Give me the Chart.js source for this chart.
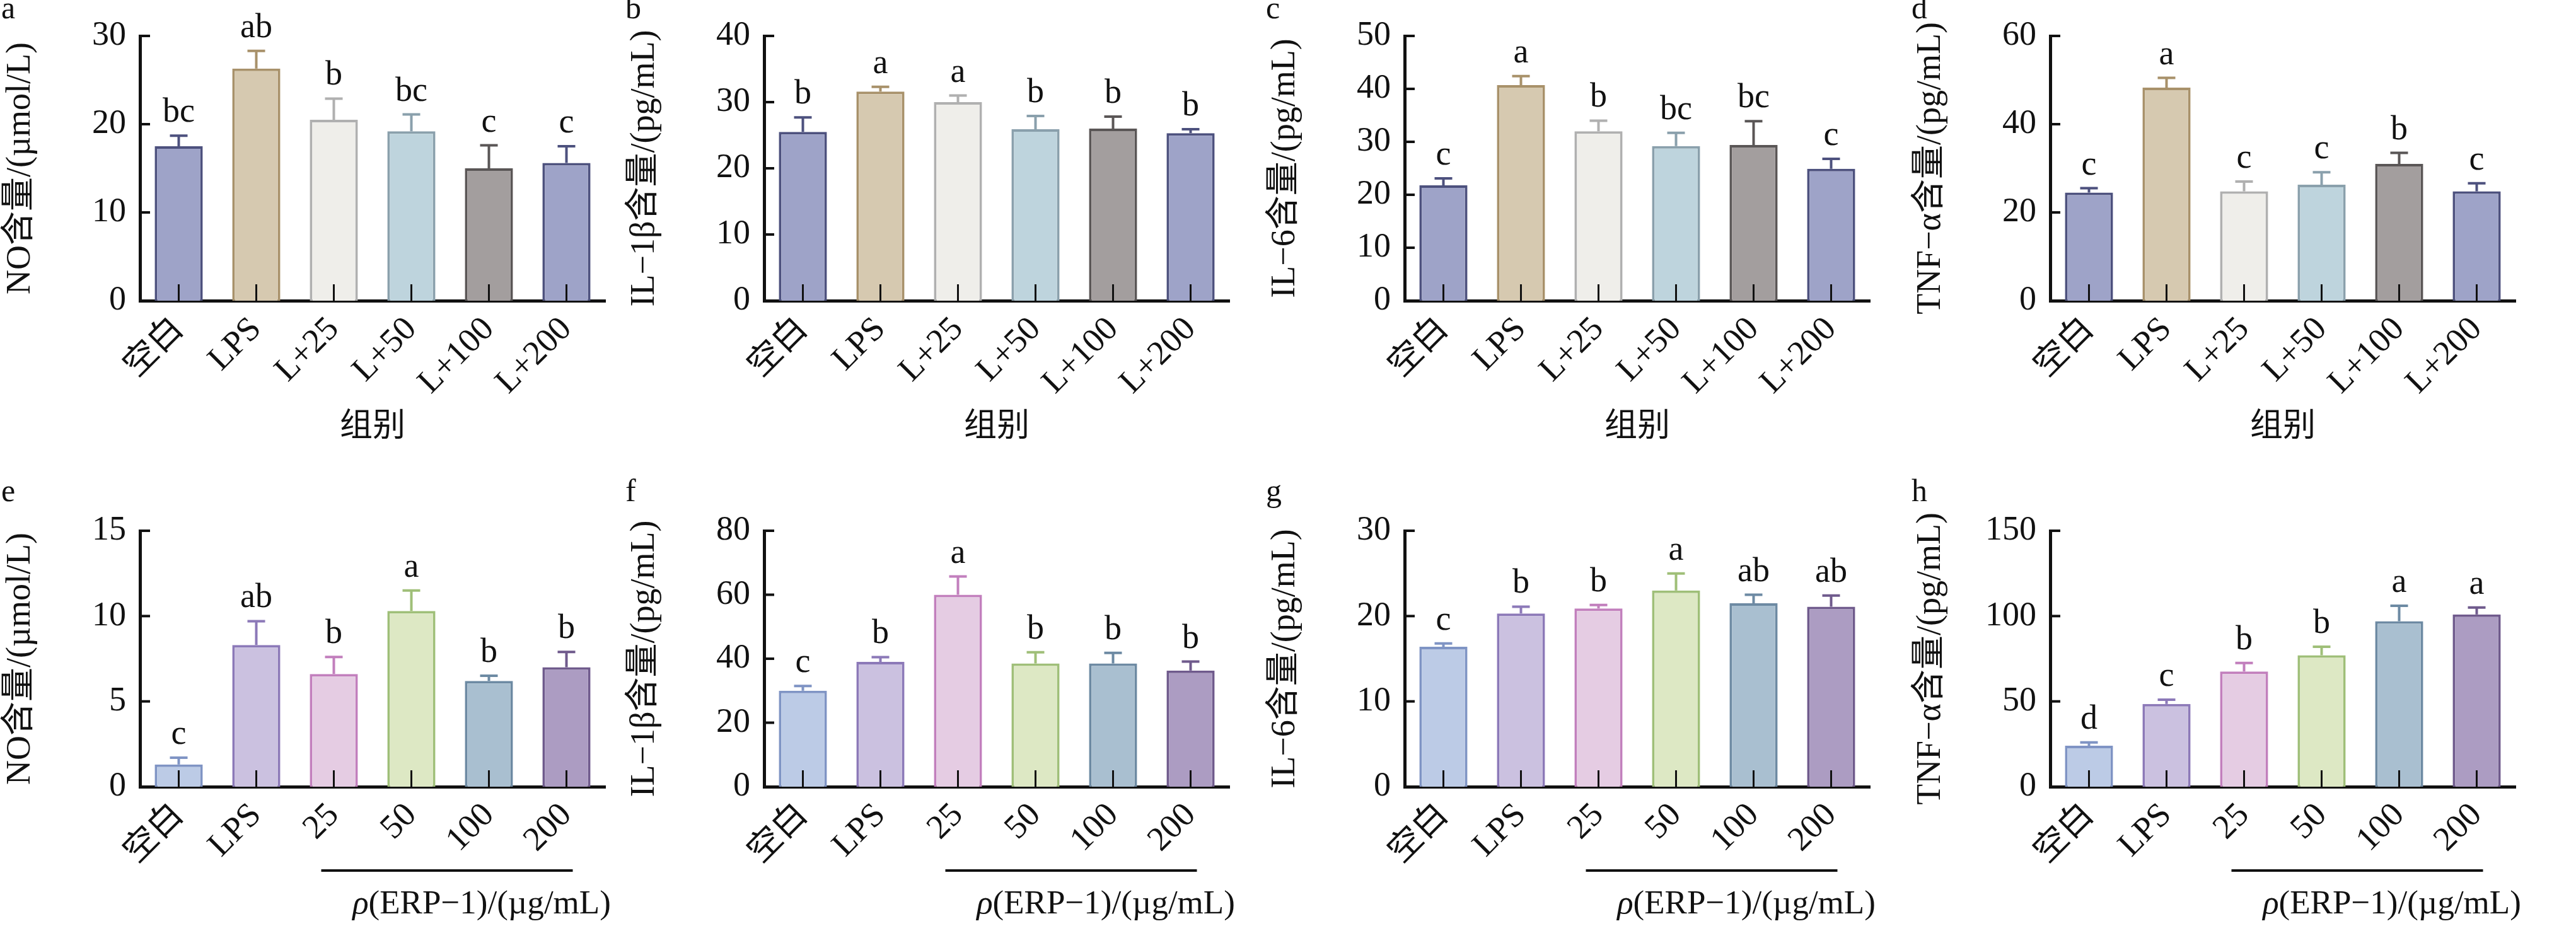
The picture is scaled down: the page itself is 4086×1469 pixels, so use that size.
<!DOCTYPE html>
<html>
<head>
<meta charset="utf-8">
<script src="https://cdn.jsdelivr.net/npm/chart.js@4.4.0/dist/chart.umd.min.js"></script>
<style>
  body { margin: 0; background: #fff; width: 4086px; height: 1469px; position: relative; overflow: hidden; }
  .p { position: absolute; width: 1000px; }
</style>
</head>
<body>
<div class="p" style="left:0px;top:0px;height:735px"><canvas id="a"></canvas></div>
<div class="p" style="left:990px;top:0px;height:735px"><canvas id="b"></canvas></div>
<div class="p" style="left:2006px;top:0px;height:735px"><canvas id="c"></canvas></div>
<div class="p" style="left:3030px;top:0px;height:735px"><canvas id="d"></canvas></div>
<div class="p" style="left:0px;top:735px;height:734px"><canvas id="e"></canvas></div>
<div class="p" style="left:990px;top:735px;height:734px"><canvas id="f"></canvas></div>
<div class="p" style="left:2006px;top:735px;height:734px"><canvas id="g"></canvas></div>
<div class="p" style="left:3030px;top:735px;height:734px"><canvas id="h"></canvas></div>
<script>
const FONT = "'Liberation Serif', 'Noto Sans CJK SC', serif";

const groupsTop = ['空白', 'LPS', 'L+25', 'L+50', 'L+100', 'L+200'];
const groupsBottom = ['空白', 'LPS', '25', '50', '100', '200'];

const noA = [17.5, 26.3, 20.5, 19.2, 15.0, 15.6];
const noAErr = [1.2, 2.0, 2.4, 1.9, 2.6, 1.9];
const noALetters = ['bc', 'ab', 'b', 'bc', 'c', 'c'];

const il1bB = [25.5, 31.6, 30.0, 25.9, 26.0, 25.3];
const il1bBErr = [2.2, 0.7, 1.0, 2.0, 1.8, 0.6];
const il1bBLetters = ['b', 'a', 'a', 'b', 'b', 'b'];

const il6C = [21.8, 40.7, 32.0, 29.2, 29.4, 24.9];
const il6CErr = [1.3, 1.7, 2.0, 2.5, 4.5, 1.9];
const il6CLetters = ['c', 'a', 'b', 'bc', 'bc', 'c'];

const tnfD = [24.5, 48.3, 24.8, 26.3, 31.0, 24.8];
const tnfDErr = [1.0, 2.2, 2.2, 2.8, 2.5, 1.8];
const tnfDLetters = ['c', 'a', 'c', 'c', 'b', 'c'];

const noE = [1.3, 8.3, 6.6, 10.3, 6.2, 7.0];
const noEErr = [0.4, 1.4, 1.0, 1.2, 0.3, 0.9];
const noELetters = ['c', 'ab', 'b', 'a', 'b', 'b'];

const il1bF = [30.0, 39.0, 60.0, 38.5, 38.5, 36.3];
const il1bFErr = [1.5, 1.5, 5.7, 3.5, 3.3, 2.8];
const il1bFLetters = ['c', 'b', 'a', 'b', 'b', 'b'];

const il6G = [16.4, 20.3, 20.9, 23.0, 21.5, 21.1];
const il6GErr = [0.4, 0.8, 0.4, 2.0, 1.0, 1.3];
const il6GLetters = ['c', 'b', 'b', 'a', 'ab', 'ab'];

const tnfH = [24.0, 48.5, 67.5, 77.0, 97.0, 101.0];
const tnfHErr = [2.0, 2.5, 5.0, 5.0, 9.0, 4.0];
const tnfHLetters = ['d', 'c', 'b', 'b', 'a', 'a'];

const fillTop = ['#9ea3c8', '#d6c9b0', '#efeeea', '#bed4dd', '#a39e9e', '#9ea3c8'];
const lineTop = ['#4d517e', '#a8916a', '#b0b0b0', '#8aa0ac', '#5a5656', '#4d517e'];
const fillBottom = ['#bccbe6', '#cbc1e0', '#e5cce3', '#dde8c4', '#a9bfd0', '#ac9cc2'];
const lineBottom = ['#7f94c4', '#8c79b8', '#c27fbd', '#9fbf78', '#6d8aa3', '#6f5a8c'];

// error bars, significance letters, inward ticks, panel letter, dose bracket
const decor = {
  id: 'decor',
  afterDatasetsDraw(chart, args, opts) {
    const ctx = chart.ctx;
    const x = chart.scales.x, y = chart.scales.y;
    const area = chart.chartArea;
    ctx.save();
    opts.values.forEach((v, i) => {
      const cx = x.getPixelForValue(i);
      const y0 = y.getPixelForValue(v);
      const y1 = y.getPixelForValue(v + opts.err[i]);
      ctx.strokeStyle = opts.colors[i];
      ctx.lineWidth = 4;
      ctx.beginPath();
      ctx.moveTo(cx, y0); ctx.lineTo(cx, y1);
      ctx.moveTo(cx - 14, y1); ctx.lineTo(cx + 14, y1);
      ctx.stroke();
      ctx.fillStyle = '#111';
      ctx.font = '54px ' + FONT;
      ctx.textAlign = 'center';
      ctx.textBaseline = 'alphabetic';
      ctx.fillText(opts.letters[i], cx, y1 - 22);
      // x tick pointing up
      ctx.strokeStyle = '#111';
      ctx.lineWidth = 3;
      ctx.beginPath();
      ctx.moveTo(cx, area.bottom); ctx.lineTo(cx, area.bottom - 26);
      ctx.stroke();
    });
    ctx.strokeStyle = '#111';
    ctx.lineWidth = 4;
    y.ticks.forEach(t => {
      const py = y.getPixelForValue(t.value);
      ctx.beginPath();
      ctx.moveTo(area.left, py); ctx.lineTo(area.left + 16, py);
      ctx.stroke();
    });
    ctx.fillStyle = '#111';
    ctx.font = '50px ' + FONT;
    ctx.textAlign = 'left';
    ctx.textBaseline = 'middle';
    ctx.fillText(opts.panel, 2, opts.panelY);
    if (opts.bracket) {
      const xa = x.getPixelForValue(2) - 20, xb = x.getPixelForValue(5) + 10;
      ctx.lineWidth = 4;
      ctx.beginPath();
      ctx.moveTo(xa, 646); ctx.lineTo(xb, 646);
      ctx.stroke();
      const mid = (x.getPixelForValue(2) + x.getPixelForValue(5)) / 2 + 50;
      const rest = '(ERP\u22121)/(\u00b5g/mL)';
      ctx.font = '53px ' + FONT;
      const wr = ctx.measureText(rest).width;
      ctx.font = 'italic 53px ' + FONT;
      const wp = ctx.measureText('\u03c1').width;
      const start = mid - (wr + wp) / 2;
      ctx.textAlign = 'left';
      ctx.fillText('\u03c1', start, 700);
      ctx.font = '53px ' + FONT;
      ctx.fillText(rest, start + wp, 700);
    }
    ctx.restore();
  }
};

function makeChart(id, groups, values, err, letters, fills, lines, yTitle, max, step, top) {
  const bottomRow = !top;
  new Chart(document.getElementById(id), {
    type: 'bar',
    data: {
      labels: groups,
      datasets: [{
        data: values,
        backgroundColor: fills,
        borderColor: lines,
        borderWidth: 4,
        borderSkipped: 'bottom',
        barPercentage: 0.62,
        categoryPercentage: 1
      }]
    },
    options: {
      responsive: true,
      maintainAspectRatio: false,
      animation: false,
      layout: { padding: { left: 0, right: 40, top: bottomRow ? 107 : 57, bottom: 0 } },
      plugins: {
        legend: { display: false },
        tooltip: { enabled: false },
        decor: {
          values: values, err: err, letters: letters, colors: lines,
          panel: id, panelY: bottomRow ? 47 : 16, bracket: bottomRow
        }
      },
      scales: {
        x: {
          grid: { display: false },
          border: { color: '#111', width: 5 },
          ticks: { color: '#111', font: { family: FONT, size: 54 }, minRotation: 45, maxRotation: 45, padding: 6 },
          title: { display: top, text: '组别', color: '#111', font: { family: FONT, size: 52 }, padding: { top: 0, bottom: 25 } },
          afterFit: s => { s.height = bottomRow ? 221 : 258; }
        },
        y: {
          min: 0, max: max,
          grid: { display: false },
          border: { color: '#111', width: 5 },
          ticks: { stepSize: step, color: '#111', font: { family: FONT, size: 54 }, padding: 14 },
          title: { display: true, text: yTitle, color: '#111', font: { family: FONT, size: 54 }, padding: { top: 0, bottom: 8 } },
          afterFit: s => { s.width = 222; }
        }
      }
    },
    plugins: [decor]
  });
}

makeChart('a', groupsTop, noA, noAErr, noALetters, fillTop, lineTop, 'NO含量/(µmol/L)', 30, 10, true);
makeChart('b', groupsTop, il1bB, il1bBErr, il1bBLetters, fillTop, lineTop, 'IL\u22121β含量/(pg/mL)', 40, 10, true);
makeChart('c', groupsTop, il6C, il6CErr, il6CLetters, fillTop, lineTop, 'IL\u22126含量/(pg/mL)', 50, 10, true);
makeChart('d', groupsTop, tnfD, tnfDErr, tnfDLetters, fillTop, lineTop, 'TNF\u2212α含量/(pg/mL)', 60, 20, true);
makeChart('e', groupsBottom, noE, noEErr, noELetters, fillBottom, lineBottom, 'NO含量/(µmol/L)', 15, 5, false);
makeChart('f', groupsBottom, il1bF, il1bFErr, il1bFLetters, fillBottom, lineBottom, 'IL\u22121β含量/(pg/mL)', 80, 20, false);
makeChart('g', groupsBottom, il6G, il6GErr, il6GLetters, fillBottom, lineBottom, 'IL\u22126含量/(pg/mL)', 30, 10, false);
makeChart('h', groupsBottom, tnfH, tnfHErr, tnfHLetters, fillBottom, lineBottom, 'TNF\u2212α含量/(pg/mL)', 150, 50, false);
</script>
</body>
</html>
